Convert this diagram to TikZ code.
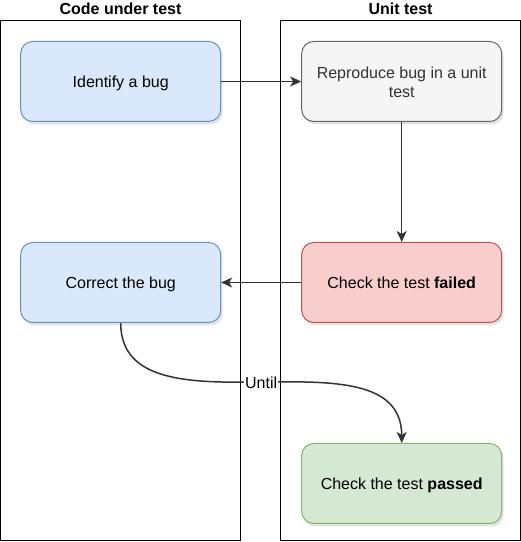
\documentclass[tikz,border=0pt]{standalone}
\usepackage{fontspec}
\setmainfont{Liberation Sans}
\usetikzlibrary{arrows.meta,positioning,shadows}

\definecolor{bluefill}{HTML}{DAE8FC}
\definecolor{blueline}{HTML}{6C8EBF}
\definecolor{grayfill}{HTML}{F5F5F5}
\definecolor{grayline}{HTML}{666666}
\definecolor{redfill}{HTML}{F8CECC}
\definecolor{redline}{HTML}{B85450}
\definecolor{greenfill}{HTML}{D5E8D4}
\definecolor{greenline}{HTML}{82B366}
\definecolor{arrowgray}{HTML}{333333}

\begin{document}
\begin{tikzpicture}[
    x=1pt, y=1pt,
    node distance=80pt,
    font=\fontsize{16}{19}\selectfont,
    lane/.style = {draw, line width=1pt, minimum width=240pt, minimum height=520pt, inner sep=0pt},
    lanetitle/.style = {font=\fontsize{16}{19}\selectfont\bfseries, inner sep=2pt},
    box/.style = {draw, rounded corners=12pt, align=center, minimum width=200pt, minimum height=80pt,
                  line width=1pt, drop shadow={shadow xshift=2pt, shadow yshift=-3pt, opacity=0.22}},
    oneline/.style = {text height=15pt, text depth=3.5pt},
    bluebox/.style = {box, fill=bluefill, draw=blueline},
    graybox/.style = {box, fill=grayfill, draw=grayline, text=arrowgray},
    redbox/.style = {box, fill=redfill, draw=redline},
    greenbox/.style = {box, fill=greenfill, draw=greenline},
    flow/.style = {draw=arrowgray, line width=1.5pt, -{Stealth[length=11pt, width=10pt, inset=3pt]}}
  ]
  \useasboundingbox (0,0) rectangle (521,542);
  % swim lanes
  \node[lane] (codelane) at (120.5,261) {};
  \node[lane] (testlane) at (400.5,261) {};
  \node[lanetitle, above=4pt of codelane] (codetitle) {Code under test};
  \node[lanetitle, above=4pt of testlane] (testtitle) {Unit test};
  % steps
  \node[bluebox, oneline] (identify) at (120.7,460.5) {Identify a bug};
  \node[graybox, right=of identify, yshift=0pt] (reproduce) {\rule{0pt}{14pt}Reproduce bug in a unit\\test};
  \node[redbox, oneline, below=120pt of reproduce] (failed) {Check the test \textbf{failed}};
  \node[bluebox, oneline, left=of failed] (correct) {Correct the bug};
  \node[greenbox, oneline, below=120pt of failed] (passed) {Check the test \textbf{passed}};
  \draw[flow] (identify) -- (reproduce);
  \draw[flow] (reproduce) -- (failed);
  \draw[flow] (failed) -- (correct);
  \draw[flow] (correct.south) to[out=-90, in=90]
    node[fill=white, inner sep=1pt] {Until} (passed.north);
\end{tikzpicture}
\end{document}
